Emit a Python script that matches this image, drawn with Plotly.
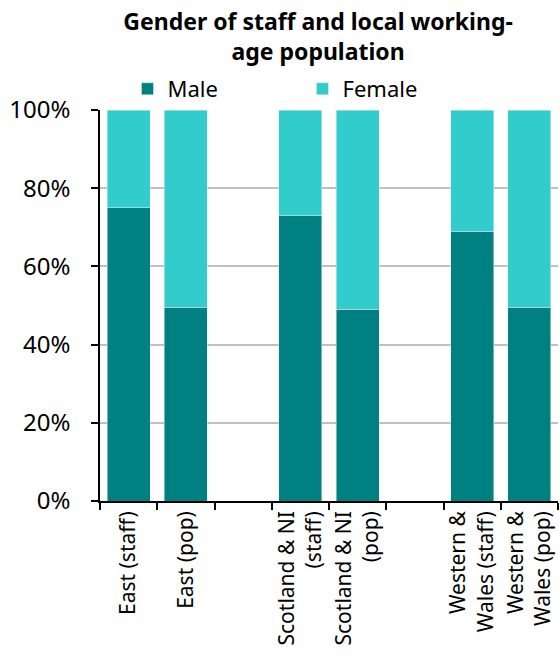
import plotly.graph_objects as go

# Categories (blank entries leave the gaps between regions)
categories = [
    "East (staff)",
    "East (pop)",
    " ",
    "Scotland & NI<br>(staff)",
    "Scotland & NI<br>(pop)",
    "  ",
    "Western &<br>Wales (staff)",
    "Western &<br>Wales (pop)",
]
male = [75.0, 49.5, None, 73.0, 49.0, None, 69.0, 49.5]
female = [25.0, 50.5, None, 27.0, 51.0, None, 31.0, 50.5]

MALE_COLOR = "#008080"
FEMALE_COLOR = "#33CCCC"
FONT = "Noto Sans"

fig = go.Figure()
fig.add_trace(go.Bar(name="Male", x=categories, y=male, marker_color=MALE_COLOR))
fig.add_trace(go.Bar(name="Female", x=categories, y=female, marker_color=FEMALE_COLOR))

fig.update_layout(
    width=560,
    height=655,
    barmode="stack",
    bargap=0.25,
    paper_bgcolor="white",
    plot_bgcolor="white",
    margin=dict(l=100, r=2, t=110, b=154, autoexpand=False),
    font=dict(family=FONT, color="black"),
    title=dict(
        text="<b>Gender of staff and local working-<br>age population</b>",
        xref="container", x=0.568, xanchor="center",
        yref="container", y=1 - 30 / 655, yanchor="middle",
        font=dict(family=FONT, size=23, color="black"),
        automargin=False,
    ),
    legend=dict(
        orientation="h",
        x=0.06, xanchor="left",
        y=1.0, yanchor="bottom",
        font=dict(size=22),
        entrywidth=130,
        traceorder="normal",
        bgcolor="rgba(0,0,0,0)",
    ),
    showlegend=True,
)

fig.update_xaxes(
    type="category",
    categoryorder="array",
    categoryarray=categories,
    range=[-0.5, 7.5],
    automargin=False,
    showline=True, linecolor="black", linewidth=1.5,
    ticks="outside", tickson="boundaries", ticklen=7, tickcolor="black", tickwidth=1.5,
    tickangle=-90,
    tickfont=dict(size=21, family=FONT),
    showgrid=False,
)
fig.update_yaxes(
    range=[0, 100],
    dtick=20,
    ticksuffix="%",
    automargin=False,
    showline=True, linecolor="black", linewidth=1.5,
    ticks="outside", ticklen=7, tickcolor="black", tickwidth=1.5,
    ticklabelstandoff=16,
    tickfont=dict(size=24, family=FONT),
    showgrid=True, gridcolor="#C0C0C0", gridwidth=1.5,
    zeroline=False,
)

fig.write_html("out.html")
